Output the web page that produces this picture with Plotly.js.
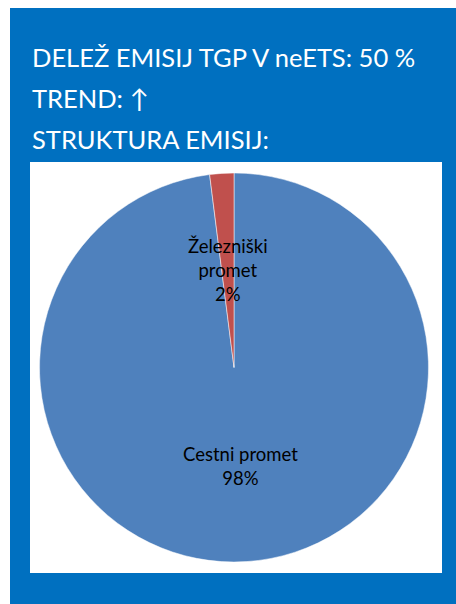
<!DOCTYPE html>
<html><head><meta charset="utf-8">
<script src="https://cdn.plot.ly/plotly-3.0.1.min.js"></script>
<style>html,body{margin:0;padding:0;background:#fff;}#chart{width:456px;height:604px;}</style>
</head><body><div id="chart"></div>
<script>
const categories = ["Cestni promet", "Železniški<br>promet"];
const values = [98, 2];
const colors = ["#4F81BD", "#C0504D"];
const headerLines = ["DELEŽ EMISIJ TGP V neETS: 50 %", "TREND: ↑", "STRUKTURA EMISIJ:"];

const W = 456, H = 604;
const px = x => x / W, py = y => 1 - y / H;

const total = values.reduce((a, b) => a + b, 0);
const labelPos = [[240, 466], [228, 270]];
const annotations = headerLines.map((t, i) => ({
  text: t, xref: 'paper', yref: 'paper', x: px(30), y: py(57 + i * 41),
  xanchor: 'left', yanchor: 'middle', showarrow: false,
  font: {family: 'Lato, sans-serif', size: 25.5, color: '#ffffff'}
}));
categories.forEach((c, i) => {
  annotations.push({
    text: c + '<br>' + Math.round(values[i] / total * 100) + '%',
    xref: 'paper', yref: 'paper', x: px(labelPos[i][0]), y: py(labelPos[i][1]),
    xanchor: 'center', yanchor: 'middle', showarrow: false,
    font: {family: 'Lato, sans-serif', size: 18.5, color: '#000000'}
  });
});

Plotly.newPlot('chart', [{
  type: 'pie', labels: categories, values: values, sort: false,
  direction: 'clockwise', rotation: 0,
  marker: {colors: colors, line: {color: '#ffffff', width: 0.5}},
  textinfo: 'none', hoverinfo: 'label+percent',
  domain: {x: [px(39.5), px(428.5)], y: [py(562), py(173)]},
  showlegend: false
}], {
  width: W, height: H, margin: {l: 0, r: 0, t: 0, b: 0},
  paper_bgcolor: '#ffffff',
  shapes: [
    {type: 'rect', xref: 'paper', yref: 'paper', x0: px(10), x1: px(456), y0: py(604), y1: py(8), fillcolor: '#0070C0', line: {width: 0}, layer: 'below'},
    {type: 'rect', xref: 'paper', yref: 'paper', x0: px(30), x1: px(442), y0: py(573), y1: py(162), fillcolor: '#ffffff', line: {width: 0}, layer: 'below'}
  ],
  annotations: annotations
}, {displayModeBar: false, staticPlot: true});
</script></body></html>
